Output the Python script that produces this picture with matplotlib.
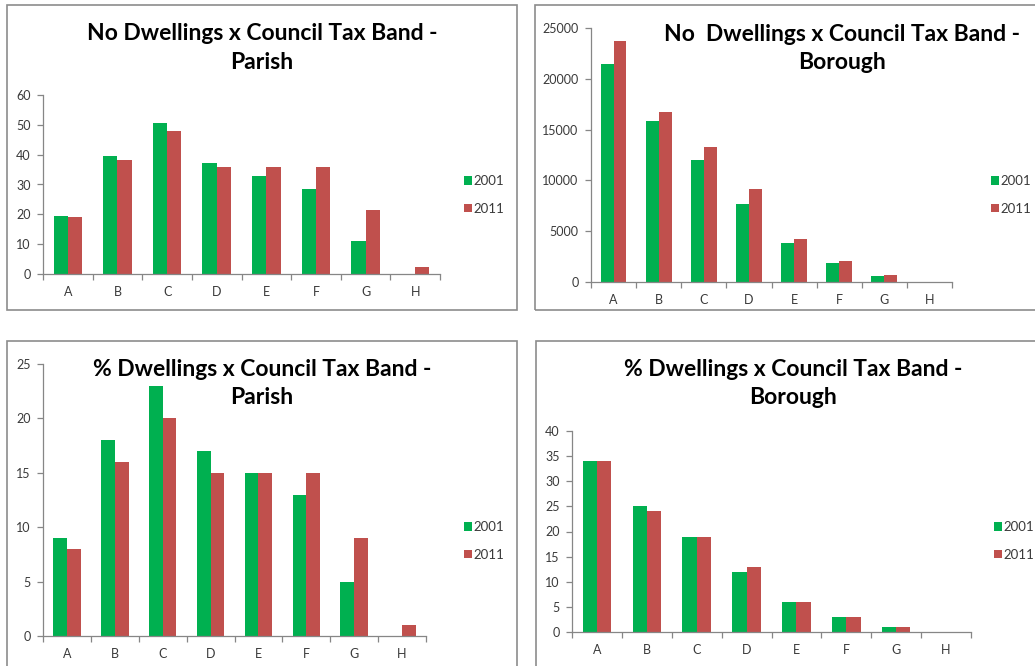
#!/usr/bin/env python3
"""
Dwellings by council tax band, 2001 vs 2011, parish and borough.
"""

import numpy as np
import matplotlib
matplotlib.use('Agg')
import matplotlib.pyplot as plt
from matplotlib.patches import Rectangle

plt.rcParams['font.family'] = ['Lato', 'DejaVu Sans']

# Data
bands = ['A', 'B', 'C', 'D', 'E', 'F', 'G', 'H']
years = ['2001', '2011']

parish_no_2001 = [19.6, 39.6, 50.5, 37.3, 33, 28.5, 11, 0]
parish_no_2011 = [19.2, 38.2, 48, 36, 36, 36, 21.4, 2.4]

borough_no_2001 = [21500, 15850, 12050, 7650, 3830, 1900, 620, 0]
borough_no_2011 = [23700, 16780, 13270, 9110, 4190, 2100, 690, 0]

parish_pct_2001 = [9, 18, 23, 17, 15, 13, 5, 0]
parish_pct_2011 = [8, 16, 20, 15, 15, 15, 9, 1]

borough_pct_2001 = [34, 25, 19, 12, 6, 3, 1, 0]
borough_pct_2011 = [34, 24, 19, 13, 6, 3, 1, 0]

titles = [
    'No Dwellings x Council Tax Band -\nParish',
    'No  Dwellings x Council Tax Band -\nBorough',
    '% Dwellings x Council Tax Band -\nParish',
    '% Dwellings x Council Tax Band -\nBorough',
]
series = [
    (parish_no_2001, parish_no_2011),
    (borough_no_2001, borough_no_2011),
    (parish_pct_2001, parish_pct_2011),
    (borough_pct_2001, borough_pct_2011),
]
y_max = [60, 25000, 25, 40]
y_step = [10, 5000, 5, 5]

GREEN = '#00B050'
RED = '#C0504D'
AXIS_GREY = '#868686'
TEXT_GREY = '#3a3a3a'

W, H = 1035, 666

# Layout in pixels: axes box, panel border, title centre, legend anchor
layout = [
    dict(axes=(43, 95, 440, 274), border=(7, 5, 517, 310), title=(262, 48), legend=(464, 195)),
    dict(axes=(591, 28, 952, 282), border=(535, 5, 1045, 310), title=(842, 48.5), legend=(991, 195)),
    dict(axes=(43, 364, 426, 636), border=(7, 341, 517, 680), title=(262, 383.5), legend=(464, 541)),
    dict(axes=(572, 431, 971, 632), border=(536, 341, 1045, 680), title=(793, 383.5), legend=(994, 541)),
]


def rect(left, top, right, bottom):
    return [left / W, 1 - bottom / H, (right - left) / W, (bottom - top) / H]


fig = plt.figure(figsize=(W / 100, H / 100), dpi=100)

x = np.arange(len(bands))
width = 0.286

for (v2001, v2011), title, ymax, ystep, lay in zip(series, titles, y_max, y_step, layout):
    # Panel border
    l, t, r, b = lay['border']
    fig.patches.append(Rectangle((l / W, 1 - b / H), (r - l) / W, (b - t) / H,
                                 transform=fig.transFigure, fill=False,
                                 edgecolor='#8c8c8c', linewidth=1.2))

    ax = fig.add_axes(rect(*lay['axes']))
    ax.bar(x - width / 2, v2001, width, color=GREEN, label=years[0])
    ax.bar(x + width / 2, v2011, width, color=RED, label=years[1])

    ax.set_xlim(-0.5, len(bands) - 0.5)
    ax.set_ylim(0, ymax)
    ax.set_yticks(np.arange(0, ymax + ystep, ystep))
    ax.set_xticks(x)
    ax.set_xticklabels(bands)
    ax.set_xticks(np.arange(-0.5, len(bands), 1), minor=True)

    for side in ('top', 'right'):
        ax.spines[side].set_visible(False)
    for side in ('left', 'bottom'):
        ax.spines[side].set_color(AXIS_GREY)
        ax.spines[side].set_linewidth(0.9)

    ax.tick_params(axis='y', direction='out', length=4, width=0.9, color=AXIS_GREY,
                   labelsize=9, labelcolor=TEXT_GREY, pad=5)
    ax.tick_params(axis='x', which='major', length=0, labelsize=9,
                   labelcolor=TEXT_GREY, pad=9)
    ax.tick_params(axis='x', which='minor', direction='out', length=4, width=0.9,
                   color=AXIS_GREY)

    tx, ty = lay['title']
    fig.text(tx / W, 1 - ty / H, title, ha='center', va='center', fontsize=16.5,
             fontweight='bold', linespacing=1.45, color='black')

    lx, ly = lay['legend']
    ax.legend(loc='center left', bbox_to_anchor=(lx / W, 1 - ly / H),
              bbox_transform=fig.transFigure, frameon=False, fontsize=9.5,
              handlelength=0.6, handleheight=0.6, handletextpad=0.15,
              labelspacing=1.2, borderpad=0, borderaxespad=0,
              labelcolor=TEXT_GREY)

fig.savefig('out.png', dpi=100)
plt.close(fig)
print('Plot saved to out.png')
